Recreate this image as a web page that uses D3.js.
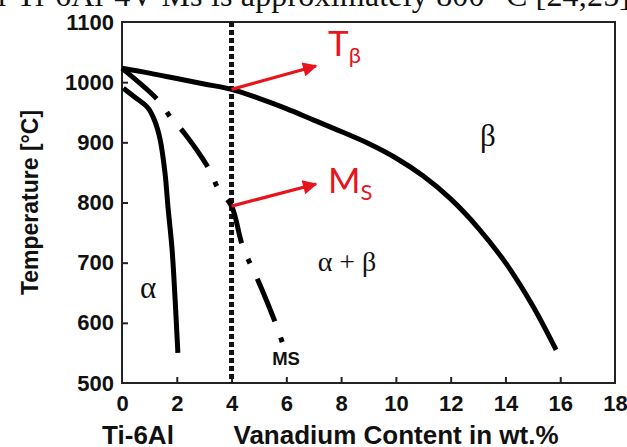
<!DOCTYPE html>
<html><head><meta charset="utf-8">
<script src="https://cdn.jsdelivr.net/npm/d3@7"></script>
<style>
html,body{margin:0;padding:0;background:#fff;}
svg{display:block;}
</style></head>
<body>
<svg id="chart" width="627" height="447"></svg>
<script>
// ---- data ----
const xTicks = [0, 2, 4, 6, 8, 10, 12, 14, 16, 18];
const yTicks = [500, 600, 700, 800, 900, 1000, 1100];
// beta transus (T_beta) curve
const betaX = [0, 1, 2, 3, 4, 5, 6, 7, 8, 9, 10, 11, 12, 13, 14, 15, 15.85];
const betaT = [1023, 1015, 1006, 997, 988, 973, 956, 937, 918, 898, 874, 844, 806, 758, 700, 628, 555];
// alpha / alpha+beta boundary
const alphaX = [0.05, 0.47, 0.95, 1.2, 1.39, 1.57, 1.68, 1.83, 1.94, 2.04];
const alphaT = [990, 975, 957, 935, 905, 849, 792, 721, 638, 550];
// martensite start (MS) line
const msX = [0, 1.3, 1.8, 2.3, 3.2, 3.5, 4.0, 4.4, 5.0, 5.6, 5.85];
const msT = [1023, 971, 940, 914, 854, 824, 794, 728, 667, 600, 568];
// marker composition Ti-6Al-4V
const vLine = 4;
const tBetaAt4 = 988;
const msAt4 = 794;

const svg = d3.select("#chart");
const x = d3.scaleLinear().domain([0, 18]).range([122, 615]);
const y = d3.scaleLinear().domain([500, 1100]).range([383, 22]);
const sans = "'Liberation Sans', Arial, sans-serif";
const serif = "'Liberation Serif', 'Times New Roman', serif";

// top cut-off document text
svg.append("text").attr("x", -2).attr("y", 6)
  .attr("font-family", serif).attr("font-size", 32).attr("fill", "#111")
  .attr("textLength", 632).attr("lengthAdjust", "spacing")
  .text("r Ti-6Al-4V Ms is approximately 800 °C [24,25]");

// frame
svg.append("rect").attr("x", x(0)).attr("y", y(1100))
  .attr("width", x(18) - x(0)).attr("height", y(500) - y(1100))
  .attr("fill", "none").attr("stroke", "#222").attr("stroke-width", 2);

// axes
const xAxis = d3.axisBottom(x).tickValues(xTicks).tickSizeInner(-6).tickSizeOuter(0)
  .tickPadding(12).tickFormat(d3.format("d"));
const gx = svg.append("g").attr("transform", `translate(0,${y(500)})`).call(xAxis);
const yAxis = d3.axisLeft(y).tickValues(yTicks).tickSizeInner(-6).tickSizeOuter(0)
  .tickPadding(8).tickFormat(d3.format("d"));
const gy = svg.append("g").attr("transform", `translate(${x(0)},0)`).call(yAxis);
[gx, gy].forEach(g => {
  g.select(".domain").remove();
  g.selectAll(".tick line").attr("stroke", "#222").attr("stroke-width", 2);
  g.selectAll(".tick text").attr("font-family", sans).attr("font-weight", "bold")
    .attr("font-size", 22).attr("fill", "#111");
});
gx.selectAll(".tick").filter(d => d === 0 || d === 18).select("line").remove();
gy.selectAll(".tick").filter(d => d === 500 || d === 1100).select("line").remove();

// axis titles
svg.append("text").attr("transform", `translate(38,${(y(500)+y(1100))/2}) rotate(-90)`)
  .attr("text-anchor", "middle").attr("font-family", sans).attr("font-weight", "bold")
  .attr("font-size", 23).attr("fill", "#111").text("Temperature [°C]");
svg.append("text").attr("x", 396).attr("y", 444).attr("text-anchor", "middle")
  .attr("font-family", sans).attr("font-weight", "bold").attr("font-size", 26)
  .attr("fill", "#111").text("Vanadium Content in wt.%");
svg.append("text").attr("x", 138).attr("y", 444).attr("text-anchor", "middle")
  .attr("font-family", sans).attr("font-weight", "bold").attr("font-size", 26)
  .attr("fill", "#111").text("Ti-6Al");

// vertical dotted line at 4 wt.%
svg.append("line").attr("x1", x(vLine)).attr("x2", x(vLine))
  .attr("y1", y(1100)).attr("y2", y(500))
  .attr("stroke", "#111").attr("stroke-width", 5).attr("stroke-dasharray", "5,3");

const line = d3.line().x(d => x(d[0])).y(d => y(d[1])).curve(d3.curveCatmullRom.alpha(0.5));
const mk = (xs, ts) => xs.map((v, i) => [v, ts[i]]);

svg.append("path").attr("d", line(mk(betaX, betaT))).attr("fill", "none")
  .attr("stroke", "#000").attr("stroke-width", 5);
svg.append("path").attr("d", line(mk(alphaX, alphaT))).attr("fill", "none")
  .attr("stroke", "#000").attr("stroke-width", 5);
svg.append("path").attr("d", line(mk(msX, msT))).attr("fill", "none")
  .attr("stroke", "#000").attr("stroke-width", 5).attr("stroke-dasharray", "46,17,5,17");

// phase labels
const greek = (tx, ty, s, fs) => svg.append("text").attr("x", tx).attr("y", ty)
  .attr("text-anchor", "middle").attr("font-family", serif).attr("font-size", fs)
  .attr("fill", "#111").text(s);
greek(148, 298, "α", 31);
greek(347, 271, "α + β", 28);
greek(488, 146, "β", 31);
svg.append("text").attr("x", 286).attr("y", 365).attr("text-anchor", "middle")
  .attr("font-family", sans).attr("font-weight", "bold").attr("font-size", 18.5)
  .attr("fill", "#111").text("MS");

// red arrows + labels
const red = "#e8141c";
svg.append("defs").append("marker").attr("id", "ah").attr("viewBox", "0 0 10 10")
  .attr("refX", 9).attr("refY", 5).attr("markerWidth", 5).attr("markerHeight", 4.5)
  .attr("orient", "auto").attr("markerUnits", "strokeWidth")
  .append("path").attr("d", "M0,0 L10,5 L0,10 Z").attr("fill", red);
const arrow = (t0, x1, y1) => svg.append("line")
  .attr("x1", x(vLine)).attr("y1", y(t0)).attr("x2", x1).attr("y2", y1)
  .attr("stroke", red).attr("stroke-width", 3.2).attr("marker-end", "url(#ah)");
arrow(tBetaAt4, 316, 66);
arrow(msAt4, 316, 184);

const redLabel = (tx, ty, main, sub) => {
  const t = svg.append("text").attr("x", tx).attr("y", ty)
    .attr("font-family", "Lato, 'Open Sans', sans-serif").attr("font-size", 35).attr("fill", red);
  t.append("tspan").text(main);
  t.append("tspan").attr("font-size", 22).attr("dy", 7).text(sub);
};
redLabel(328, 56, "T", "β");
redLabel(328, 193, "M", "S");
</script>
</body></html>
